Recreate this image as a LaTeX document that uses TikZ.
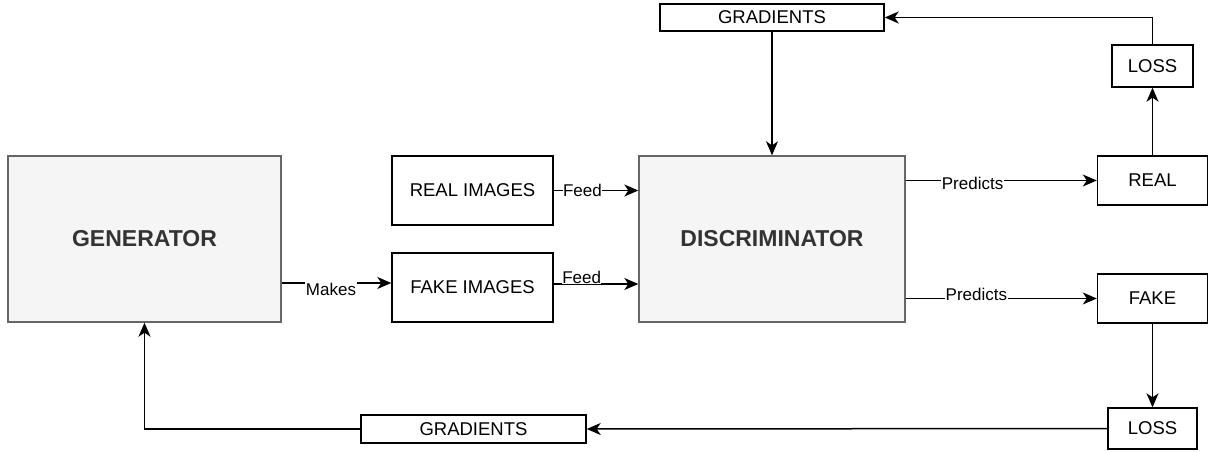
\documentclass[tikz,border=0pt]{standalone}
\usepackage{fontspec}
\setmainfont{Liberation Sans}
\usetikzlibrary{arrows.meta,calc}
\definecolor{gfill}{HTML}{F5F5F5}
\definecolor{gdraw}{HTML}{666666}
\definecolor{gtext}{HTML}{333333}
\begin{document}
\begin{tikzpicture}[x=1pt,y=-1pt,
  plainbox/.style={draw=black,line width=1.4pt,fill=white,inner sep=0pt,font=\fontsize{18.5}{21}\selectfont},
  bigbox/.style={draw=gdraw,line width=1.4pt,fill=gfill,inner sep=0pt,text=gtext,font=\fontsize{23}{27}\selectfont\bfseries},
  conn/.style={line width=1.5pt,-{Stealth[length=14pt,width=12pt,inset=4pt]}},
  lbl/.style={fill=white,inner sep=0.5pt,font=\fontsize{17}{19}\selectfont}]
\useasboundingbox (0,0) rectangle (1210,452);
\node[bigbox,minimum width=273pt,minimum height=166pt] (gen) at (144.5,239) {GENERATOR};
\node[plainbox,minimum width=161pt,minimum height=69pt] (realimg) at (472.5,190.5) {REAL IMAGES};
\node[plainbox,minimum width=161pt,minimum height=69pt] (fakeimg) at (472.5,287.5) {FAKE IMAGES};
\node[bigbox,minimum width=266pt,minimum height=166pt] (disc) at (772,239) {DISCRIMINATOR};
\node[plainbox,minimum width=224pt,minimum height=27pt] (gradtop) at (772,17.5) {GRADIENTS};
\node[plainbox,minimum width=81pt,minimum height=42pt] (losstop) at (1152.5,66) {LOSS};
\node[plainbox,minimum width=110pt,minimum height=49pt] (real) at (1152.5,180.5) {REAL};
\node[plainbox,minimum width=110pt,minimum height=49pt] (fake) at (1152.5,298.5) {FAKE};
\node[plainbox,minimum width=89pt,minimum height=41pt] (lossbot) at (1152.5,428.5) {LOSS};
\node[plainbox,minimum width=225pt,minimum height=28pt] (gradbot) at (473.5,429) {GRADIENTS};
% connectors
\coordinate (gs) at ([yshift=-44pt]gen.east);
\draw[conn] (gs) -- (fakeimg.west |- gs) node[lbl,pos=0.45,yshift=-6pt] {Makes};
\draw[conn] (realimg.east) -- (disc.west |- realimg.east) node[lbl,pos=0.34] {Feed};
\coordinate (fs) at ([yshift=3.5pt]fakeimg.east);
\draw[conn] (fs) -- (disc.west |- fs) node[lbl,pos=0.33,yshift=7pt] {Feed};
\draw[conn] (disc.east |- real.west) -- (real.west) node[lbl,pos=0.35,yshift=-3pt] {Predicts};
\draw[conn] (disc.east |- fake.west) -- (fake.west) node[lbl,pos=0.37,yshift=4pt] {Predicts};
\draw[conn] (gradtop.south) -- (disc.north);
\draw[conn] (real.north) -- (losstop.south);
\draw[conn] (losstop.north) |- (gradtop.east);
\draw[conn] (fake.south) -- (lossbot.north);
\draw[conn] (lossbot.west) -- (gradbot.east);
\draw[conn] (gradbot.west) -| (gen.south);
\end{tikzpicture}
\end{document}
